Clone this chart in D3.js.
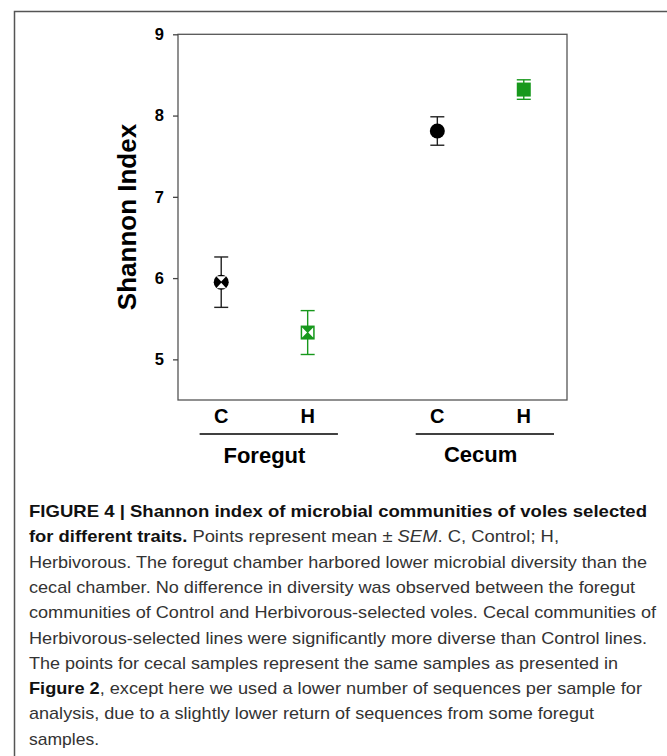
<!DOCTYPE html>
<html>
<head>
<meta charset="utf-8">
<script src="https://cdn.jsdelivr.net/npm/d3@7"></script>
<style>
  body { margin: 0; background: #fff; }
  svg { display: block; }
</style>
</head>
<body>
<svg id="chart" width="667" height="756"></svg>
<script>
// values
var groups = ["Foregut", "Cecum"];
var treatments = ["C", "H"];
var means = [5.95, 5.33, 7.81, 8.32];   // foregut C, foregut H, cecum C, cecum H
var sems = [0.31, 0.27, 0.175, 0.12];
var yTicks = [5, 6, 7, 8, 9];

var captionLines = [
    [["b", "FIGURE 4 | Shannon index of microbial communities of voles selected"]],
    [["b", "for different traits."], ["r", " Points represent mean \u00b1 "], ["i", "SEM"], ["r", ". C, Control; H,"]],
    [["r", "Herbivorous. The foregut chamber harbored lower microbial diversity than the"]],
    [["r", "cecal chamber. No difference in diversity was observed between the foregut"]],
    [["r", "communities of Control and Herbivorous-selected voles. Cecal communities of"]],
    [["r", "Herbivorous-selected lines were significantly more diverse than Control lines."]],
    [["r", "The points for cecal samples represent the same samples as presented in"]],
    [["b", "Figure 2"], ["r", ", except here we used a lower number of sequences per sample for"]],
    [["r", "analysis, due to a slightly lower return of sequences from some foregut"]],
    [["r", "samples."]]
];
var captionWidths = [618, 530, 618, 606, 627, 618, 589, 613, 565, 70];

var svg = d3.select("#chart");
var green = "#17981c";

// outer figure border (left + top)
svg.append("path")
    .attr("d", "M14.5,756V11.5H667")
    .attr("fill", "none")
    .attr("stroke", "#555")
    .attr("stroke-width", 1.5);

var frame = {left: 178, right: 567, top: 34.3, bottom: 400};

var x = d3.scaleLinear().domain([-0.5, 4]).range([frame.left, frame.right]);
var y = d3.scaleLinear().domain([4.5, 9]).range([frame.bottom, frame.top]);

var points = [];
groups.forEach(function(g, gi) {
    treatments.forEach(function(t, ti) {
        var k = gi * 2 + ti;
        points.push({group: g, treat: t, pos: gi * 2.5 + ti, mean: means[k], sem: sems[k], gi: gi, ti: ti});
    });
});

// plot frame
svg.append("rect")
    .attr("x", frame.left).attr("y", frame.top)
    .attr("width", frame.right - frame.left)
    .attr("height", frame.bottom - frame.top)
    .attr("fill", "none")
    .attr("stroke", "#555")
    .attr("stroke-width", 1.3);

var yAxis = svg.append("g")
    .attr("transform", "translate(" + frame.left + ",0)")
    .call(d3.axisLeft(y).tickValues(yTicks).tickSize(5).tickPadding(9).tickFormat(d3.format("d")));
yAxis.select(".domain").remove();
yAxis.selectAll(".tick line").attr("stroke", "#444").attr("stroke-width", 1.3);
yAxis.selectAll(".tick text")
    .attr("font-family", "Liberation Sans, Arial, sans-serif")
    .attr("font-weight", "bold")
    .attr("font-size", 16.5)
    .attr("fill", "#000");

svg.append("text")
    .attr("transform", "translate(136,217) rotate(-90)")
    .attr("text-anchor", "middle")
    .attr("font-family", "Liberation Sans, Arial, sans-serif")
    .attr("font-weight", "bold")
    .attr("font-size", 26)
    .text("Shannon Index");

// error bars
var eb = svg.append("g").selectAll("g").data(points).enter().append("g")
    .attr("stroke", function(d) { return d.ti === 0 ? "#222" : green; })
    .attr("stroke-width", 1.4);
eb.append("line")
    .attr("x1", function(d) { return x(d.pos); })
    .attr("x2", function(d) { return x(d.pos); })
    .attr("y1", function(d) { return y(d.mean + d.sem); })
    .attr("y2", function(d) { return y(d.mean - d.sem); });
[1, -1].forEach(function(s) {
    eb.append("line")
        .attr("x1", function(d) { return x(d.pos) - 7; })
        .attr("x2", function(d) { return x(d.pos) + 7; })
        .attr("y1", function(d) { return y(d.mean + s * d.sem); })
        .attr("y2", function(d) { return y(d.mean + s * d.sem); });
});

// markers
points.forEach(function(d) {
    var cx = x(d.pos), cy = y(d.mean);
    var g = svg.append("g").attr("transform", "translate(" + cx + "," + cy + ")");
    if (d.ti === 0) {
        g.append("circle").attr("r", 7.5).attr("fill", "#000");
        if (d.gi === 0) {
            // white hourglass inside
            g.append("path")
                .attr("d", "M-5,-6L5,-6L0,-0.6Z M-5,6L5,6L0,0.6Z")
                .attr("fill", "#fff");
        }
    } else {
        g.append("rect").attr("x", -7).attr("y", -7).attr("width", 14).attr("height", 14).attr("fill", green);
        if (d.gi === 0) {
            g.append("path")
                .attr("d", "M-5.5,-5L-5.5,5L-0.6,0Z M5.5,-5L5.5,5L0.6,0Z")
                .attr("fill", "#fff");
        }
    }
});

// treatment labels
svg.append("g").selectAll("text").data(points).enter().append("text")
    .attr("x", function(d) { return x(d.pos); })
    .attr("y", 423)
    .attr("text-anchor", "middle")
    .attr("font-family", "Liberation Sans, Arial, sans-serif")
    .attr("font-weight", "bold")
    .attr("font-size", 20)
    .text(function(d) { return d.treat; });

// group brackets
groups.forEach(function(g, gi) {
    var c = x(gi * 2.5 + 0.5);
    svg.append("line")
        .attr("x1", x(gi * 2.5 - 0.25)).attr("x2", x(gi * 2.5 + 1.35))
        .attr("y1", 434).attr("y2", 434)
        .attr("stroke", "#000").attr("stroke-width", 1.6);
    svg.append("text")
        .attr("x", c)
        .attr("y", gi === 0 ? 463 : 461.5)
        .attr("text-anchor", "middle")
        .attr("font-family", "Liberation Sans, Arial, sans-serif")
        .attr("font-weight", "bold")
        .attr("font-size", 22)
        .text(g);
});

// caption
var cap = svg.append("g")
    .attr("font-family", "Liberation Sans, Arial, sans-serif")
    .attr("font-size", 17);
captionLines.forEach(function(line, i) {
    var t = cap.append("text")
        .attr("x", 29)
        .attr("y", 517 + i * 25.3)
        .attr("textLength", captionWidths[i])
        .attr("lengthAdjust", "spacingAndGlyphs");
    line.forEach(function(seg) {
        t.append("tspan")
            .attr("font-weight", seg[0] === "b" ? "bold" : "normal")
            .attr("font-style", seg[0] === "i" ? "italic" : "normal")
            .attr("fill", seg[0] === "b" ? "#111" : "#333")
            .text(seg[1]);
    });
});
</script>
</body>
</html>
